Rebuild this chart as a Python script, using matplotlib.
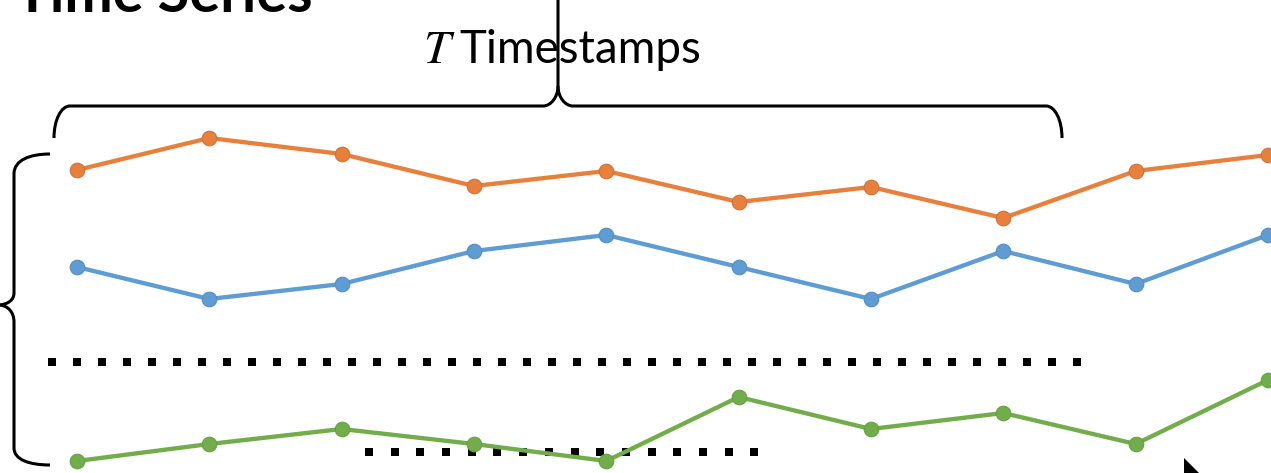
import numpy as np
import matplotlib
matplotlib.use("Agg")
import matplotlib.pyplot as plt
from matplotlib.path import Path
from matplotlib.patches import PathPatch, Polygon

# ---- data ----
timestamps = list(range(10))
series_orange = [303, 335, 319, 287, 302, 271, 286, 255, 302, 318]
series_blue = [206, 174, 189, 222, 238, 206, 174, 222, 189, 238]
series_green = [12, 29, 44, 29, 12, 76, 44, 60, 29, 93]
title_text = "Time Series"
axis_label = "Timestamps"

W, H = 1271, 473
fig = plt.figure(figsize=(W / 100, H / 100), dpi=100)

# overlay in pixel coordinates for annotation decorations
ov = fig.add_axes([0, 0, 1, 1])
ov.set_xlim(0, W)
ov.set_ylim(H, 0)
ov.axis("off")

# data axes
ax = fig.add_axes([0, 0, 1, 1], zorder=2)
ax.patch.set_alpha(0)
step = (1268 - 77) / 9
ax.set_xlim(-77 / step, (W - 77) / step)
ax.set_ylim(0, H)
ax.axis("off")

colors = ["#E8803C", "#5E9CD3", "#72AC4B"]
edge = ["#C9733F", "#5A8CBF", "#67A046"]
for vals, c, e in zip([series_orange, series_blue, series_green], colors, edge):
    ax.plot(timestamps, vals, color=c, lw=3.1, marker="o", ms=10.5,
            mfc=c, mec=e, mew=0.8, solid_capstyle="round", clip_on=False)

# braces
lw = 2.2
verts = [(54, 138), (54, 120), (61, 106), (70, 106), (543, 106),
         (551, 106), (558, 97), (558, 86), (558, 0)]
codes = [Path.MOVETO, Path.CURVE4, Path.CURVE4, Path.CURVE4, Path.LINETO,
         Path.CURVE4, Path.CURVE4, Path.CURVE4, Path.LINETO]
ov.add_patch(PathPatch(Path(verts, codes), fill=False, lw=lw, color="black", capstyle="butt"))
verts = [(558, 86), (558, 97), (565, 106), (573, 106), (1046, 106),
         (1055, 106), (1062, 120), (1062, 138)]
codes = [Path.MOVETO, Path.CURVE4, Path.CURVE4, Path.CURVE4, Path.LINETO,
         Path.CURVE4, Path.CURVE4, Path.CURVE4]
ov.add_patch(PathPatch(Path(verts, codes), fill=False, lw=lw, color="black", capstyle="butt"))

verts = [(50, 154), (30, 154), (14, 160), (14, 174), (14, 293),
         (14, 300), (8, 304), (0, 305)]
codes = [Path.MOVETO, Path.CURVE4, Path.CURVE4, Path.CURVE4, Path.LINETO,
         Path.CURVE4, Path.CURVE4, Path.CURVE4]
ov.add_patch(PathPatch(Path(verts, codes), fill=False, lw=lw, color="black", capstyle="butt"))
verts = [(0, 305), (8, 306), (14, 312), (14, 322), (14, 448),
         (14, 460), (30, 465), (50, 465)]
ov.add_patch(PathPatch(Path(verts, codes), fill=False, lw=lw, color="black", capstyle="butt"))

# ellipsis dots
d1 = np.arange(52, 1080, 25.0)
ov.plot(d1, np.full_like(d1, 362), ls="none", marker="s", ms=5.8, color="black", mew=0)
d2 = np.arange(369, 760, 25.7)
ov.plot(d2, np.full_like(d2, 452), ls="none", marker="s", ms=5.8, color="black", mew=0, zorder=3)

# arrow head fragment
ov.add_patch(Polygon([(1184, 458), (1184, 474), (1200, 474)], closed=True, color="black", lw=0))

# texts
fig.canvas.draw()
r = fig.canvas.get_renderer()

def fit(t, target_w):
    bb = t.get_window_extent(r)
    t.set_fontsize(t.get_fontsize() * target_w / bb.width)

t1 = ov.text(15, 12, title_text, fontsize=40, fontweight="bold", family="Lato",
             ha="left", va="baseline")
fit(t1, 297)
tT = ov.text(423, 63, "$T$", fontsize=30, ha="left", va="baseline",
             math_fontfamily="stix")
t2 = ov.text(459, 63, axis_label, fontsize=30, family="Lato", ha="left", va="baseline")
fit(t2, 242)
tT.set_fontsize(t2.get_fontsize() * 1.05)

fig.savefig("out.png", dpi=100)
